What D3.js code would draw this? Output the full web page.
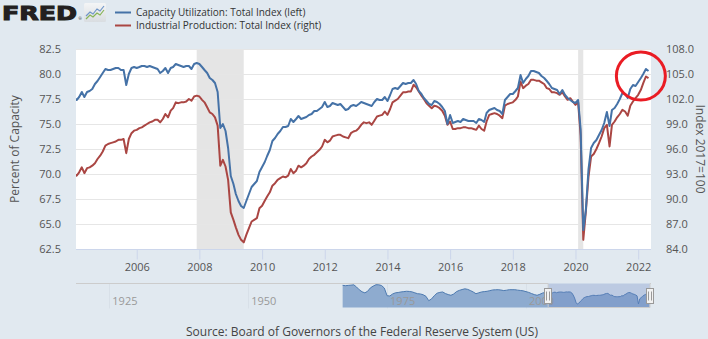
<!DOCTYPE html>
<html>
<head>
<meta charset="utf-8">
<script src="https://cdn.jsdelivr.net/npm/d3@7"></script>
<style>
  html, body { margin: 0; padding: 0; background: #e1e9f0; }
  svg { display: block; font-family: "Open Sans", sans-serif; }
</style>
</head>
<body>
<svg id="chart" width="708" height="339"></svg>
<script>
// ---- data: monthly values, January 2004 through May 2022 ----
const firstMonth = "2004-01-01";

// Capacity Utilization: Total Index (percent of capacity), one row per year
const capacityUtilization = [
  [77.6, 77.4, 77.7, 78.2, 77.7, 78.2, 78.3, 78.5, 79.0, 79.3, 79.7, 80.1],
  [80.5, 80.4, 80.4, 80.5, 80.6, 80.6, 80.4, 80.4, 78.9, 80.0, 80.6, 80.7],
  [80.6, 80.7, 80.8, 80.8, 80.7, 80.8, 80.7, 80.6, 80.5, 80.1, 80.3, 80.6],
  [80.1, 80.6, 80.7, 81.0, 80.9, 80.8, 80.7, 80.8, 80.8, 80.5, 81.0, 81.1],
  [81.0, 80.7, 80.4, 80.1, 79.6, 79.4, 79.1, 78.2, 74.6, 75.0, 74.3, 72.6],
  [69.8, 69.0, 68.0, 67.3, 66.8, 66.6, 67.3, 68.0, 68.7, 69.0, 69.3, 70.2],
  [70.7, 71.2, 71.8, 72.4, 73.3, 73.6, 74.0, 74.3, 74.7, 74.7, 74.8, 75.5],
  [75.2, 75.5, 75.8, 75.5, 75.6, 75.7, 75.9, 76.0, 76.3, 76.3, 76.5, 76.7],
  [77.2, 76.7, 76.8, 77.1, 77.0, 76.9, 77.0, 76.7, 76.4, 76.5, 76.8, 76.9],
  [76.8, 77.0, 77.2, 77.1, 77.0, 76.9, 76.8, 77.2, 77.5, 77.4, 77.4, 77.7],
  [77.3, 77.9, 78.5, 78.6, 78.5, 78.8, 79.1, 79.0, 79.1, 79.1, 79.4, 79.0],
  [78.3, 78.0, 77.6, 77.3, 77.0, 76.9, 77.3, 77.2, 77.0, 76.7, 76.3, 75.0],
  [75.9, 75.1, 75.2, 75.3, 75.2, 75.5, 75.4, 75.3, 75.3, 75.3, 75.1, 75.5],
  [75.4, 75.2, 76.1, 76.4, 76.5, 76.6, 76.4, 76.3, 76.0, 77.4, 77.7, 78.0],
  [78.0, 78.3, 78.6, 79.9, 79.1, 79.5, 79.8, 80.3, 80.3, 80.2, 80.1, 79.8],
  [79.6, 79.3, 79.0, 78.6, 78.5, 78.4, 78.0, 78.4, 77.9, 77.6, 77.4, 77.2],
  [77.1, 77.4, 74.5, 64.4, 66.4, 70.5, 72.6, 73.1, 73.4, 73.9, 74.4, 75.1],
  [76.2, 74.8, 76.4, 76.6, 77.0, 77.5, 78.1, 78.0, 77.6, 78.5, 78.9, 78.8],
  [79.2, 79.6, 80.0, 80.5, 80.3]
];

// Industrial Production: Total Index (2017 = 100), one row per year
const industrialProduction = [
  [93.1, 92.8, 93.2, 93.8, 93.1, 93.7, 93.8, 94.0, 94.3, 94.8, 95.2, 95.7],
  [96.4, 96.6, 96.7, 96.8, 96.9, 97.1, 97.1, 97.2, 95.5, 97.2, 97.9, 98.2],
  [98.3, 98.5, 98.6, 98.8, 99.0, 99.2, 99.3, 99.5, 99.5, 99.2, 99.6, 100.2],
  [99.8, 100.6, 100.9, 101.6, 101.5, 101.6, 101.6, 101.7, 102.0, 101.8, 102.3, 102.4],
  [102.3, 101.9, 101.6, 101.0, 100.4, 100.2, 99.8, 98.8, 94.0, 94.7, 93.9, 92.3],
  [88.4, 87.5, 86.6, 85.7, 85.1, 84.8, 85.7, 86.5, 87.3, 87.5, 87.7, 88.9],
  [89.2, 89.8, 90.3, 90.8, 91.6, 91.9, 92.3, 92.5, 92.7, 92.6, 92.8, 93.6],
  [93.1, 93.4, 94.0, 93.8, 94.0, 94.3, 94.8, 95.1, 95.3, 95.6, 95.9, 96.3],
  [97.1, 96.8, 97.0, 97.5, 97.6, 97.7, 97.7, 97.5, 97.4, 97.3, 97.9, 98.1],
  [98.2, 98.5, 98.9, 99.2, 99.1, 99.2, 98.9, 99.4, 99.9, 100.0, 100.1, 100.5],
  [100.1, 100.8, 101.6, 101.8, 102.0, 102.4, 102.8, 102.8, 102.9, 102.9, 103.7, 103.4],
  [102.9, 102.4, 102.0, 101.5, 101.2, 100.9, 101.2, 101.1, 100.9, 100.6, 100.0, 98.9],
  [99.3, 98.4, 98.4, 98.5, 98.5, 98.6, 98.6, 98.5, 98.5, 98.4, 98.3, 98.8],
  [98.4, 98.2, 99.3, 100.1, 100.2, 100.3, 100.2, 100.0, 99.7, 101.2, 101.4, 101.5],
  [101.6, 101.9, 102.3, 104.1, 103.3, 103.6, 103.8, 104.3, 104.3, 104.2, 104.2, 104.0],
  [103.8, 103.3, 103.2, 102.8, 102.8, 102.7, 102.5, 102.8, 102.3, 101.9, 102.1, 101.7],
  [101.3, 101.6, 97.6, 85.1, 88.5, 92.7, 95.1, 95.4, 96.0, 96.7, 97.5, 98.5],
  [98.9, 96.3, 98.9, 99.3, 99.8, 100.2, 100.7, 100.5, 100.0, 101.2, 101.7, 102.1],
  [102.5, 103.1, 103.9, 104.7, 104.5]
];

// capacity utilization before 2004 for the navigator, half-yearly from January 1967
const navFirstMonth = "1967-01-01";
const navHistory = [
  88.4, 88.0, 88.3, 88.6, 89.0, 86.5, 83.3, 81.0, 79.8, 81.6,
  85.5, 87.5, 89.1, 89.0, 88.2, 85.3, 76.5, 76.2, 78.5, 79.8,
  80.2, 80.8, 81.2, 81.6, 81.4, 80.9, 79.8, 78.8, 78.5, 77.6,
  75.8, 70.8, 72.8, 76.5, 79.4, 80.3, 80.8, 79.0, 77.8, 77.0,
  78.5, 81.2, 82.6, 83.6, 84.4, 83.8, 82.4, 80.8, 78.8, 79.8,
  80.8, 81.2, 81.6, 82.3, 83.1, 83.3, 83.4, 83.0, 82.4, 82.8,
  83.4, 83.4, 83.4, 82.9, 82.5, 82.1, 81.2, 80.3, 79.0, 77.8,
  77.0, 78.1, 79.6, 80.2
];

const leftTicks = [62.5, 65.0, 67.5, 70.0, 72.5, 75.0, 77.5, 80.0, 82.5];
const rightTicks = [84.0, 87.0, 90.0, 93.0, 96.0, 99.0, 102.0, 105.0, 108.0];
const yearTicks = [2006, 2008, 2010, 2012, 2014, 2016, 2018, 2020, 2022];
const navYearTicks = [1925, 1950, 1975, 2000];
const recessions = [["2007-12-01", "2009-06-01"], ["2020-02-01", "2020-04-01"]];
const seriesNames = ["Capacity Utilization: Total Index (left)", "Industrial Production: Total Index (right)"];
const leftTitle = "Percent of Capacity";
const rightTitle = "Index 2017=100";
const sourceText = "Source: Board of Governors of the Federal Reserve System (US)";
// highlighted spot on the latest readings
const highlight = { date: "2022-02-01", value: 79.8 };

// ---- layout ----
const plot = { left: 76, right: 651, top: 49, bottom: 249 };
const nav = { left: 76, right: 650, top: 283.5, bottom: 307.5 };
const colors = { capacity: "#4572a7", production: "#aa4643", grid: "#e6e6e6", axis: "#ccd6eb", text: "#555555" };

const parse = d3.utcParse("%Y-%m-%d");
const start = parse(firstMonth);
const toSeries = rows => rows.flat().map((v, i) => ({ date: d3.utcMonth.offset(start, i), value: v }));
const capacity = toSeries(capacityUtilization);
const production = toSeries(industrialProduction);

const svg = d3.select("#chart");
const defs = svg.append("defs");

const x = d3.scaleUtc().domain([start, d3.utcMonth.offset(start, capacity.length - 1)]).range([74, 648.5]);
const yLeft = d3.scaleLinear().domain([62.5, 82.5]).range([plot.bottom, plot.top]);
const yRight = d3.scaleLinear().domain([84, 108]).range([plot.bottom, plot.top]);

// ---- header: logo and legend ----
const logo = svg.append("g");
logo.append("text").attr("x", 2).attr("y", 19.5)
  .attr("font-family", "'DejaVu Sans', sans-serif").attr("font-weight", 900)
  .attr("font-size", 20).attr("fill", "#231f20").attr("stroke", "#231f20").attr("stroke-width", 1.1)
  .attr("textLength", 75).attr("lengthAdjust", "spacingAndGlyphs").text("FRED");
logo.append("text").attr("x", 78.5).attr("y", 20).attr("font-size", 4).attr("fill", "#231f20").text("®");
const icon = logo.append("g").attr("transform", "translate(84,3)");
const grad = defs.append("linearGradient").attr("id", "iconBg").attr("x1", 0).attr("y1", 0).attr("x2", 0).attr("y2", 1);
grad.append("stop").attr("offset", 0).attr("stop-color", "#f4f5f6");
grad.append("stop").attr("offset", 1).attr("stop-color", "#d9dde1");
icon.append("rect").attr("width", 22).attr("height", 19).attr("rx", 1.5).attr("fill", "url(#iconBg)");
icon.append("path").attr("d", "M2,13 L6,9 L9,11 L13,6 L16,8 L20,3").attr("fill", "none").attr("stroke", "#6f96c8").attr("stroke-width", 1.2);
icon.append("path").attr("d", "M2,16 L6,12 L9,14 L13,10 L16,12 L20,7").attr("fill", "none").attr("stroke", "#86b457").attr("stroke-width", 1.2);

const legend = svg.append("g");
[colors.capacity, colors.production].forEach((c, i) => {
  const yy = 12.5 + i * 13;
  legend.append("line").attr("x1", 115).attr("x2", 131).attr("y1", yy).attr("y2", yy)
    .attr("stroke", c).attr("stroke-width", 2);
  legend.append("text").attr("x", 136).attr("y", yy).attr("dy", "0.35em")
    .attr("font-size", 10).attr("fill", "#333").text(seriesNames[i]);
});

// ---- plot area ----
svg.append("rect").attr("x", plot.left).attr("y", plot.top)
  .attr("width", plot.right - plot.left).attr("height", plot.bottom - plot.top).attr("fill", "#ffffff");

svg.append("g").selectAll("rect").data(recessions).join("rect")
  .attr("x", d => x(parse(d[0])))
  .attr("width", d => x(parse(d[1])) - x(parse(d[0])))
  .attr("y", plot.top).attr("height", plot.bottom - plot.top)
  .attr("fill", "#e5e5e5");

svg.append("g").selectAll("line").data(leftTicks.slice(1)).join("line")
  .attr("x1", plot.left).attr("x2", plot.right)
  .attr("y1", d => Math.round(yLeft(d)) + 0.5).attr("y2", d => Math.round(yLeft(d)) + 0.5)
  .attr("stroke", colors.grid);

// x axis
const xAxis = d3.axisBottom(x)
  .tickValues(yearTicks.map(yr => new Date(Date.UTC(yr, 0, 1))))
  .tickFormat(d3.utcFormat("%Y")).tickSize(10).tickPadding(4);
const gx = svg.append("g").attr("transform", `translate(0,${plot.bottom + 0.5})`).call(xAxis);
gx.select(".domain").attr("d", `M${plot.left},0H${plot.right}`).attr("stroke", colors.axis);
gx.selectAll(".tick line").attr("stroke", colors.axis);
gx.selectAll(".tick text").attr("font-size", 11).attr("fill", colors.text).attr("font-family", "Open Sans");

// left y axis
const gl = svg.append("g").attr("transform", `translate(${plot.left},0)`)
  .call(d3.axisLeft(yLeft).tickValues(leftTicks).tickFormat(d3.format(".1f")).tickSize(0).tickPadding(15));
gl.select(".domain").remove();
gl.selectAll(".tick text").attr("font-size", 11).attr("fill", colors.text).attr("font-family", "Open Sans");

// right y axis
const gr = svg.append("g").attr("transform", `translate(${plot.right},0)`)
  .call(d3.axisRight(yRight).tickValues(rightTicks).tickFormat(d3.format(".1f")).tickSize(0).tickPadding(15));
gr.select(".domain").remove();
gr.selectAll(".tick text").attr("font-size", 11).attr("fill", colors.text).attr("font-family", "Open Sans");

svg.append("text").attr("transform", `translate(15,${(plot.top + plot.bottom) / 2}) rotate(-90)`)
  .attr("text-anchor", "middle").attr("dy", "0.35em").attr("font-size", 12).attr("fill", colors.text).text(leftTitle);
svg.append("text").attr("transform", `translate(700,${(plot.top + plot.bottom) / 2}) rotate(90)`)
  .attr("text-anchor", "middle").attr("dy", "0.35em").attr("font-size", 12).attr("fill", colors.text).text(rightTitle);

// series lines
defs.append("clipPath").attr("id", "plotClip").append("rect")
  .attr("x", plot.left).attr("y", plot.top - 5).attr("width", plot.right - plot.left).attr("height", plot.bottom - plot.top + 10);
const lines = svg.append("g").attr("clip-path", "url(#plotClip)");
lines.append("path").datum(production)
  .attr("d", d3.line().x(d => x(d.date)).y(d => yRight(d.value)))
  .attr("fill", "none").attr("stroke", colors.production).attr("stroke-width", 2).attr("stroke-linejoin", "round");
lines.append("path").datum(capacity)
  .attr("d", d3.line().x(d => x(d.date)).y(d => yLeft(d.value)))
  .attr("fill", "none").attr("stroke", colors.capacity).attr("stroke-width", 2).attr("stroke-linejoin", "round");

// highlight ring
svg.append("ellipse")
  .attr("cx", x(parse(highlight.date))).attr("cy", yLeft(highlight.value))
  .attr("rx", 24.5).attr("ry", 24)
  .attr("fill", "none").attr("stroke", "#ea1c24").attr("stroke-width", 3);

// ---- navigator ----
const navStart = parse(navFirstMonth);
const navSeries = navHistory.map((v, i) => ({ date: d3.utcMonth.offset(navStart, i * 6), value: v }));
for (let i = 0; i < capacity.length; i += 3) {
  const chunk = capacity.slice(i, i + 3);
  navSeries.push({ date: chunk[0].date, value: d3.mean(chunk, d => d.value) });
}
const nx = d3.scaleUtc().domain([new Date(Date.UTC(1919, 0, 1)), capacity[capacity.length - 1].date]).range([nav.left, nav.right]);
const ny = d3.scaleLinear().domain([63, 90.5]).range([nav.bottom, nav.top]);
const yearX = yr => nx(new Date(Date.UTC(yr, 0, 1)));

const navG = svg.append("g");
navG.selectAll("line.grid").data(navYearTicks).join("line")
  .attr("x1", d => Math.round(yearX(d)) + 0.5).attr("x2", d => Math.round(yearX(d)) + 0.5)
  .attr("y1", nav.top).attr("y2", nav.bottom + 1).attr("stroke", "#d8e0e8");
navG.append("path").datum(navSeries)
  .attr("d", d3.area().x(d => nx(d.date)).y0(nav.bottom).y1(d => ny(d.value)))
  .attr("fill", "#8eabcf");
navG.append("path").datum(navSeries)
  .attr("d", d3.line().x(d => nx(d.date)).y(d => ny(d.value)))
  .attr("fill", "none").attr("stroke", "#4d7ab0").attr("stroke-width", 1);
navG.selectAll("text").data(navYearTicks).join("text")
  .attr("x", d => yearX(d) + 3).attr("y", 304.5)
  .attr("font-size", 11).attr("fill", "#999999").text(d => d);

const selLeft = nx(capacity[0].date), selRight = nx(capacity[capacity.length - 1].date);
navG.append("rect").attr("x", selLeft).attr("y", nav.top).attr("width", selRight - selLeft)
  .attr("height", nav.bottom - nav.top + 0.5).attr("fill", "rgba(102,133,194,0.3)");
navG.append("path")
  .attr("d", `M${nav.left},${nav.top}H${selLeft}V${nav.bottom}H${selRight}V${nav.top}H${plot.right}`)
  .attr("fill", "none").attr("stroke", "#cccccc");
[selLeft, selRight].forEach(hx => {
  const h = navG.append("g").attr("transform", `translate(${Math.round(hx)},296)`);
  h.append("rect").attr("x", -3.5).attr("y", -7.5).attr("width", 7).attr("height", 15)
    .attr("fill", "#f2f2f2").attr("stroke", "#999999");
  h.append("path").attr("d", "M-1.5,-4.5V4.5M1.5,-4.5V4.5").attr("stroke", "#999999");
});

// ---- source line ----
svg.append("text").attr("x", 362).attr("y", 335.5).attr("text-anchor", "middle")
  .attr("font-size", 12).attr("fill", "#444").text(sourceText);
</script>
</body>
</html>
